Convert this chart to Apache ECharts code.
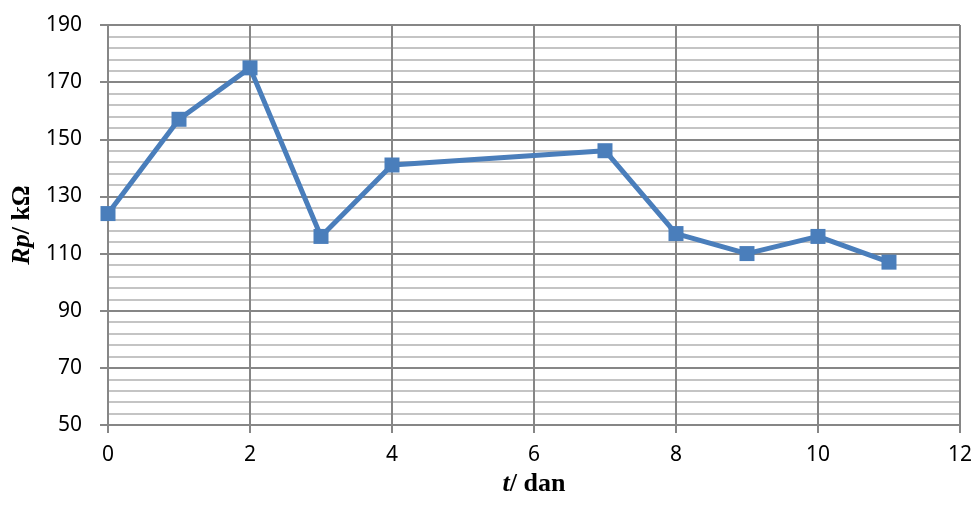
<!DOCTYPE html>
<html>
<head>
<meta charset="utf-8">
<script src="https://cdn.jsdelivr.net/npm/echarts@6/dist/echarts.min.js"></script>
<style>
  html, body { margin: 0; padding: 0; background: #fff; }
  #chart { width: 975px; height: 513px; }
</style>
</head>
<body>
<div id="chart"></div>
<script>
// 数据
const tValues = [0, 1, 2, 3, 4, 7, 8, 9, 10, 11];
const rpValues = [124, 157, 175, 116, 141, 146, 117, 110, 116, 107];

const points = tValues.map((t, i) => [t, rpValues[i]]);

const chart = echarts.init(document.getElementById("chart"));

// 轴标题样式（斜体变量 + 正体单位）
const nameRich = {
  i: { fontFamily: "Liberation Serif", fontStyle: "italic", fontWeight: "bold", fontSize: 26, color: "#000" },
  n: { fontFamily: "Liberation Serif", fontWeight: "bold", fontSize: 26, color: "#000" },
};

const options = {
  animation: false,
  grid: {
    left: 108,
    right: 12,
    top: 25,
    bottom: 88,
  },
  xAxis: {
    type: "value",
    min: 0,
    max: 12,
    interval: 2,
    name: "{i|t}{n|/ dan}",
    nameLocation: "middle",
    nameGap: 44,
    nameTextStyle: { rich: nameRich },
    axisLine: { show: true, lineStyle: { color: "#868686", width: 2 } },
    axisTick: { show: true, length: 8, lineStyle: { color: "#868686", width: 2 } },
    axisLabel: { color: "#000", fontFamily: "Noto Sans", fontSize: 21, margin: 20 },
    splitLine: { show: true, lineStyle: { color: "#868686", width: 2 } },
  },
  yAxis: {
    type: "value",
    min: 50,
    max: 190,
    interval: 20,
    name: "{i|Rp}{n|/ kΩ}",
    nameLocation: "middle",
    nameGap: 73,
    nameRotate: 90,
    nameTextStyle: { rich: nameRich },
    axisLine: { show: true, lineStyle: { color: "#868686", width: 2 } },
    axisTick: { show: true, length: 8, lineStyle: { color: "#868686", width: 2 } },
    axisLabel: { color: "#000", fontFamily: "Noto Sans", fontSize: 21, margin: 26 },
    splitLine: { show: true, lineStyle: { color: "#868686", width: 2 } },
    minorTick: { show: false, splitNumber: 5 },
    minorSplitLine: { show: true, lineStyle: { color: "#c4c4c4", width: 2 } },
  },
  series: [
    {
      type: "line",
      data: points,
      symbol: "rect",
      symbolSize: 15,
      lineStyle: { color: "#4a7ebb", width: 5 },
      itemStyle: { color: "#4a7ebb" },
      z: 5,
    },
  ],
};

chart.setOption(options);
window.addEventListener("resize", () => {
  chart.resize();
});
</script>
</body>
</html>
